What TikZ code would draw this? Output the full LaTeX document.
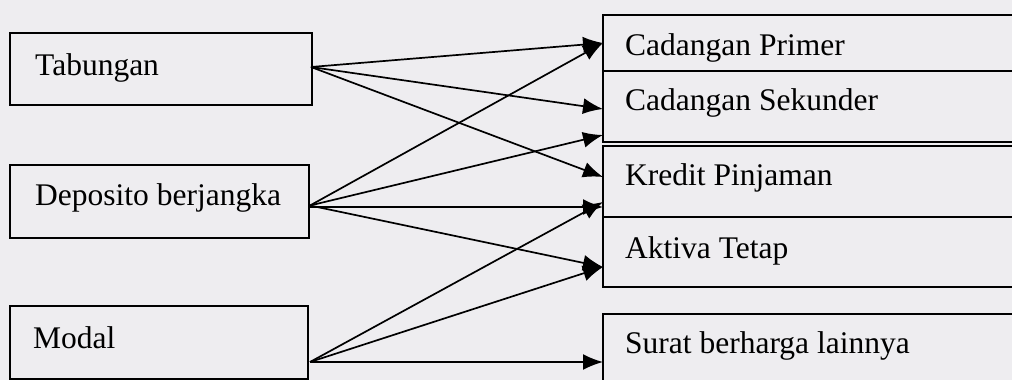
\documentclass[tikz,border=0pt]{standalone}
\usepackage{fontspec}
\setmainfont{Liberation Serif}
\usetikzlibrary{arrows.meta,calc}
\definecolor{bg}{RGB}{238,237,240}
\begin{document}
\begin{tikzpicture}[x=1pt,y=-1pt,
  box/.style={draw,line width=1.8pt,inner sep=0pt,outer sep=0pt,anchor=north west},
  lbl/.style={font=\fontsize{31.5}{36}\selectfont,anchor=base west,inner sep=0pt},
  arr/.style={line width=1.7pt,-{Latex[length=20pt,width=16pt]}}]
\fill[bg] (0,0) rectangle (1012,380);
\useasboundingbox (0,0) rectangle (1012,380);
\clip (0,0) rectangle (1012,380);
% left boxes
\node[box,minimum width=302pt,minimum height=72pt] (tab) at (10,33) {};
\node[box,minimum width=299pt,minimum height=73pt] (dep) at (10,165) {};
\node[box,minimum width=298pt,minimum height=73pt] (mod) at (10,306) {};
% right boxes
\node[box,minimum width=430pt,minimum height=56pt] (prim) at (603,15) {};
\node[box,minimum width=430pt,minimum height=71pt] (sek) at (603,71) {};
\node[box,minimum width=430pt,minimum height=71pt] (kred) at (603,146) {};
\node[box,minimum width=430pt,minimum height=70pt] (akt) at (603,217) {};
\node[box,minimum width=430pt,minimum height=80pt] (sur) at (603,314) {};
% labels
\node[lbl] (tabt) at (35,75) {Tabungan};
\node[lbl] (dept) at (35,205) {Deposito berjangka};
\node[lbl] (modt) at (33,348) {Modal};
\node[lbl] (primt) at (625,55) {Cadangan Primer};
\node[lbl] (sekt) at (625,110) {Cadangan Sekunder};
\node[lbl] (kredt) at (625,185) {Kredit Pinjaman};
\node[lbl] (aktt) at (625,258) {Aktiva Tetap};
\node[lbl] (surt) at (625,353) {Surat berharga lainnya};
% arrows from Tabungan
\draw[arr] ($(tab.east)+(-1,-2)$) -- (prim.west);
\draw[arr] ($(tab.east)+(-1,-2)$) -- ($(sek.west)+(0,2.5)$);
\draw[arr] ($(tab.east)+(-1,-2)$) -- ($(kred.west)+(0,-4.5)$);
% arrows from Deposito
\draw[arr] ($(dep.east)+(1,4)$) -- (prim.west);
\draw[arr] ($(dep.east)+(1,4)$) -- ($(sek.west)+(0,28.5)$);
\draw[arr] ($(dep.east)+(1,5.5)$) -- ($(kred.west)+(0,25.5)$);
\draw[arr] ($(dep.east)+(1,4)$) -- ($(akt.west)+(0,15)$);
% arrows from Modal
\draw[arr] ($(mod.east)+(2,19.5)$) -- ($(kred.west)+(0,20.5)$);
\draw[arr] ($(mod.east)+(2,19.5)$) -- ($(akt.west)+(0,15)$);
\draw[arr] ($(mod.east)+(2,19.5)$) -- ($(sur.west)+(0,8)$);
\end{tikzpicture}
\end{document}
